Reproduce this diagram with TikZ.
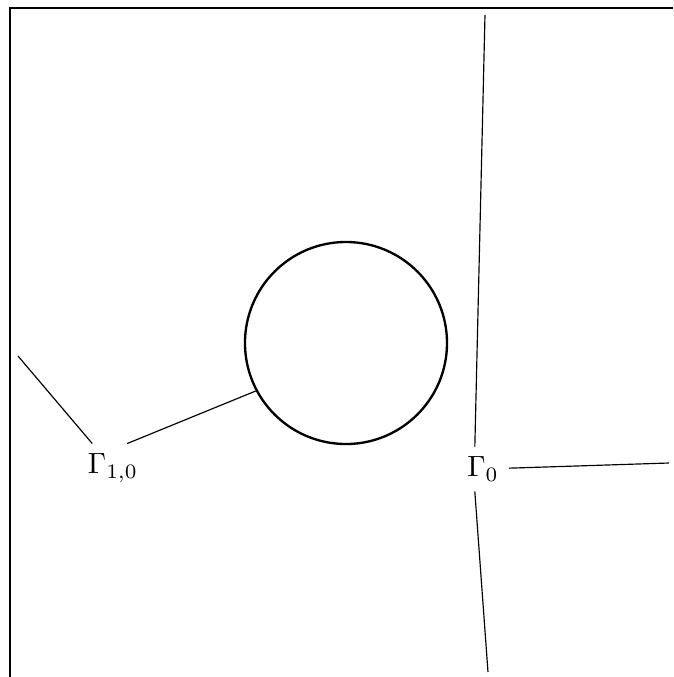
\documentclass[tikz,border=0pt]{standalone}
\usetikzlibrary{positioning}

\begin{document}
\begin{tikzpicture}[
  x=0.3415pt, y=-0.3415pt,
  lbl/.style={inner sep=3.3pt},
  bdry/.style={draw, thick},
  cut/.style={draw, thin},
]
  \useasboundingbox (0,0) rectangle (673,677);

  % Outer boundary
  \coordinate (bl) at (10,677);
  \coordinate (tl) at (10,8);
  \coordinate (tr) at (673,8);
  \draw[bdry] (bl) -- (tl) -- (tr);

  % Inclusion
  \node[bdry, circle, minimum size=69pt, inner sep=0pt] (disk) at (346,343) {};

  % Labels
  \node[lbl] (g10) at (113,468) {$\Gamma_{1,0}$};
  \node[lbl] (g0) at (483,469) {$\Gamma_0$};

  % Free ends
  \coordinate (e10) at (18,356);
  \coordinate (etop) at (485,15);
  \coordinate (eright) at (669,463);
  \coordinate (ebot) at (488,672);

  % Cuts
  \draw[cut] (g10) -- (e10);
  \draw[cut] (g10.60) -- (disk.208);
  \draw[cut] (g0.110) -- (etop);
  \draw[cut] (g0) -- (eright);
  \draw[cut] (g0.250) -- (ebot);
\end{tikzpicture}
\end{document}
